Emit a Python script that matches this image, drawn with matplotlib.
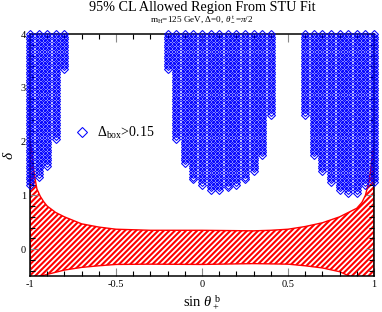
import numpy as np
import matplotlib
matplotlib.use("Agg")
import matplotlib.pyplot as plt
from matplotlib.ticker import MultipleLocator, FixedLocator, FuncFormatter

plt.rcParams['font.family'] = ['Liberation Serif', 'DejaVu Serif']
plt.rcParams['mathtext.fontset'] = 'custom'
plt.rcParams['mathtext.rm'] = 'Liberation Serif'
plt.rcParams['mathtext.it'] = 'Liberation Serif:italic'
plt.rcParams['hatch.linewidth'] = 1.5
plt.rcParams['hatch.color'] = 'red'

# ---- data ----
# scan columns (sin theta_+^b) and lowest delta with Delta_box > 0.15 (all extend up to delta = 4)
col_x = [-1.0, -0.95, -0.9, -0.85, -0.8,
         -0.2, -0.15, -0.1, -0.05, 0.0, 0.05, 0.1, 0.15, 0.2, 0.25, 0.3, 0.35, 0.4,
         0.6, 0.65, 0.7, 0.75, 0.8, 0.85, 0.9, 0.95, 1.0]
col_ymin = [1.2, 1.35, 1.55, 2.05, 3.35,
            3.35, 2.05, 1.6, 1.3, 1.2, 1.1, 1.1, 1.15, 1.2, 1.3, 1.45, 1.75, 2.5,
            2.5, 1.75, 1.45, 1.25, 1.1, 1.05, 1.05, 1.2, 1.25]
delta_top = 4.0
delta_step = 0.05

# STU-allowed band: upper and lower boundary
up_x = [-1.0, -0.99, -0.98, -0.97, -0.96, -0.94, -0.92, -0.9, -0.85, -0.8, -0.7, -0.6, -0.5,
        -0.3, 0.0, 0.3, 0.4, 0.5, 0.6, 0.7, 0.8, 0.85, 0.9, 0.93, 0.95, 0.97, 0.98, 0.99, 1.0]
up_y = [2.0, 1.85, 1.5, 1.3, 1.12, 0.98, 0.88, 0.8, 0.68, 0.6, 0.47, 0.41, 0.37,
        0.35, 0.35, 0.34, 0.35, 0.37, 0.42, 0.49, 0.6, 0.68, 0.76, 0.87, 1.0, 1.25, 1.45, 1.75, 1.95]
lo_x = [-1.0, -0.9, -0.8, -0.7, -0.6, -0.5, -0.3, 0.0, 0.3, 0.5, 0.6, 0.7, 0.8, 0.87, 1.0]
lo_y = [-0.55, -0.47, -0.39, -0.34, -0.31, -0.285, -0.28, -0.285, -0.27, -0.28, -0.31, -0.35, -0.42, -0.52, -0.55]

fig = plt.figure(figsize=(3.82, 3.12), dpi=100)
ax = fig.add_axes([30/382, 1-276/312, 344/382, 242/312])

# band
xs = np.union1d(up_x, lo_x)
yu = np.interp(xs, up_x, up_y)
yl = np.interp(xs, lo_x, lo_y)
ax.fill_between(xs, yl, yu, facecolor='white', edgecolor='red', hatch='//////', linewidth=1.0, zorder=1)

# scan points
px, py = [], []
for x, ymin in zip(col_x, col_ymin):
    ys = np.arange(ymin, delta_top + 1e-6, delta_step)
    px.extend([x] * len(ys))
    py.extend(ys)
ax.plot(px, py, linestyle='none', marker='D', ms=3.9, mfc='none', mec='#0000ff', mew=0.75,
        clip_on=False, zorder=3, label=r'$\Delta_{\mathrm{box}}$>0.15')

ax.set_xlim(-1, 1)
ax.set_ylim(-0.5, 4)
ax.xaxis.set_major_locator(FixedLocator([-1, -0.5, 0, 0.5, 1]))
ax.xaxis.set_minor_locator(MultipleLocator(0.1))
ax.yaxis.set_major_locator(FixedLocator([0, 1, 2, 3, 4]))
ax.yaxis.set_minor_locator(MultipleLocator(0.2))
ax.xaxis.set_major_formatter(FuncFormatter(lambda v, p: '%g' % v))
ax.yaxis.set_major_formatter(FuncFormatter(lambda v, p: '%g' % v))
ax.tick_params(which='both', direction='in', top=True, right=True, labelsize=7.5, pad=3)
ax.tick_params(which='major', length=6, width=0.8, color='#888888')
ax.tick_params(which='minor', length=3.5, width=0.8, color='black')
for s in ax.spines.values():
    s.set_linewidth(1.1)

ax.set_xlabel(r'sin $\theta_+^{\ \mathrm{b}}$', fontsize=10.5, labelpad=3)
ax.set_ylabel(r'$\delta$', fontsize=11, labelpad=3)

fig.text(202/382, 1-10.5/312, '95% CL Allowed Region From STU Fit', ha='center', va='baseline', fontsize=10.2)
fig.text(202/382, 1-22/312, r'm$_\mathrm{H}$=125 GeV, $\Delta$=0, $\theta_-^{\ \mathrm{t}}$=$\pi$/2',
         ha='center', va='baseline', fontsize=6.6)

ax.legend(loc='center left', bbox_to_anchor=(0.11, 0.592), frameon=False, fontsize=10,
          handlelength=1.0, handletextpad=0.6, borderpad=0, markerscale=1.2)

fig.savefig('out.png', dpi=100)
